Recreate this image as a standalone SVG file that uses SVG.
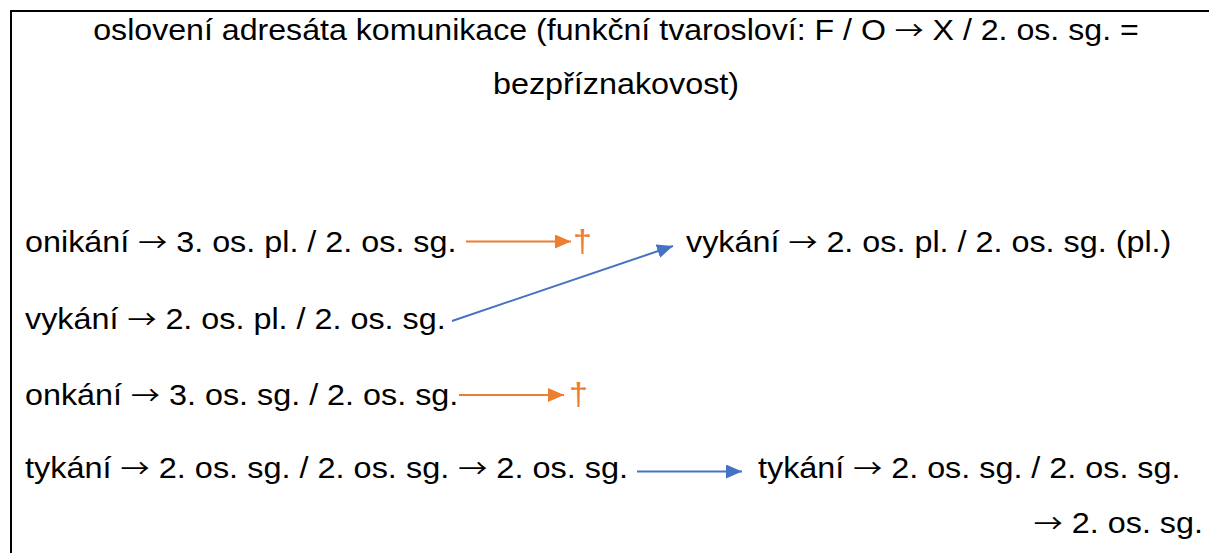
<svg xmlns="http://www.w3.org/2000/svg" width="1209" height="553" viewBox="0 0 1209 553">
<style>
text{font-family:"Liberation Sans",Arial,sans-serif;font-size:29px;fill:#000}
.ar{font-family:"Noto Sans CJK JP","DejaVu Sans",sans-serif;font-size:26px}
.or{fill:#ED7D31;font-size:31px}
.lo{stroke:#ED7D31;stroke-width:2;fill:none}
.lb{stroke:#4472C4;stroke-width:2;fill:none}
</style>
<defs>
<marker id="ao" markerUnits="userSpaceOnUse" markerWidth="16" markerHeight="14" refX="16" refY="7" orient="auto"><path d="M0,0 L16,7 L0,14 Z" fill="#ED7D31"/></marker>
<marker id="ab" markerUnits="userSpaceOnUse" markerWidth="16" markerHeight="14" refX="16" refY="7" orient="auto"><path d="M0,0 L16,7 L0,14 Z" fill="#4472C4"/></marker>
</defs>
<rect width="1209" height="553" fill="#fff"/>
<path d="M11,553 V11 H1209" fill="none" stroke="#000" stroke-width="2"/>
<g id="title">
<text transform="translate(616,40) scale(1.108,1)" text-anchor="middle">oslovení adresáta komunikace (funkční tvarosloví: F / O <tspan class="ar">→</tspan> X / 2. os. sg. =</text>
<text transform="translate(616,94) scale(1.115,1)" text-anchor="middle">bezpříznakovost)</text>
</g>
<g id="n-onikani"><text transform="translate(25,252) scale(1.115,1)">onikání <tspan class="ar">→</tspan> 3. os. pl. / 2. os. sg.</text></g>
<g id="n-dagger1"><text class="or" transform="translate(573,252) scale(1.1,1)">†</text></g>
<g id="n-vykani-new"><text transform="translate(686,252) scale(1.115,1)">vykání <tspan class="ar">→</tspan> 2. os. pl. / 2. os. sg. (pl.)</text></g>
<g id="n-vykani"><text transform="translate(25,329) scale(1.115,1)">vykání <tspan class="ar">→</tspan> 2. os. pl. / 2. os. sg.</text></g>
<g id="n-onkani"><text transform="translate(25,405) scale(1.115,1)">onkání <tspan class="ar">→</tspan> 3. os. sg. / 2. os. sg.</text></g>
<g id="n-dagger2"><text class="or" transform="translate(569,405) scale(1.1,1)">†</text></g>
<g id="n-tykani"><text transform="translate(25,478) scale(1.12,1)">tykání <tspan class="ar">→</tspan> 2. os. sg. / 2. os. sg. <tspan class="ar">→</tspan> 2. os. sg.</text></g>
<g id="n-tykani-new">
<text transform="translate(758,478) scale(1.115,1)">tykání <tspan class="ar">→</tspan> 2. os. sg. / 2. os. sg.</text>
<text transform="translate(1203,533) scale(1.115,1)" text-anchor="end"><tspan class="ar">→</tspan> 2. os. sg.</text>
</g>
<g id="connectors">
<line class="lo" x1="466" y1="241.5" x2="571" y2="241.5" marker-end="url(#ao)"/>
<line class="lb" x1="452" y1="321" x2="673" y2="246" marker-end="url(#ab)"/>
<line class="lo" x1="459" y1="395" x2="564" y2="395" marker-end="url(#ao)"/>
<line class="lb" x1="637" y1="471.5" x2="742" y2="471.5" marker-end="url(#ab)"/>
</g>
</svg>
